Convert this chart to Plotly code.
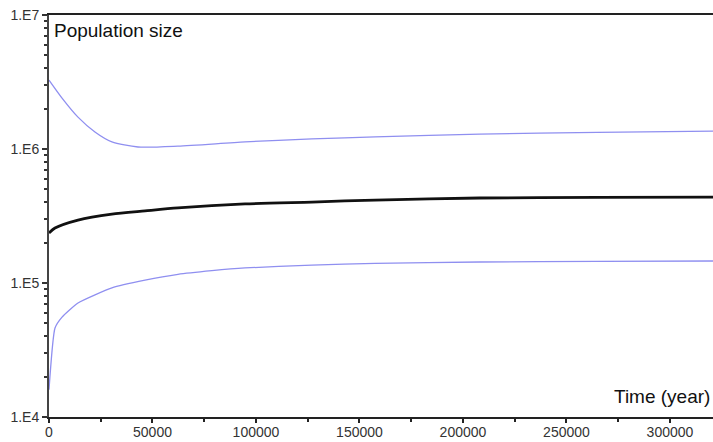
import plotly.graph_objects as go

# Time (years) and population size
upper_x = [0, 6300, 14000, 22200, 30400, 43000, 62300, 94700, 127000, 157500, 208000, 265000, 320800]
upper_y = [3.27e6, 2.40e6, 1.73e6, 1.34e6, 1.13e6, 1.035e6, 1.05e6, 1.13e6, 1.19e6, 1.23e6, 1.29e6, 1.33e6, 1.36e6]

mid_x = [0, 2900, 14000, 30400, 46400, 62300, 94700, 127000, 157500, 208000, 265000, 320800]
mid_y = [2.36e5, 2.57e5, 2.95e5, 3.27e5, 3.45e5, 3.63e5, 3.89e5, 4.02e5, 4.16e5, 4.31e5, 4.35e5, 4.38e5]

lower_x = [0, 2900, 6300, 14000, 30400, 46400, 62300, 78700, 94700, 127000, 157500, 208000, 265000, 320800]
lower_y = [1.6e4, 4.62e4, 5.57e4, 7.1e4, 9.2e4, 1.05e5, 1.16e5, 1.235e5, 1.295e5, 1.36e5, 1.40e5, 1.435e5, 1.45e5, 1.46e5]

y_tickvals = [1e4, 1e5, 1e6, 1e7]
y_ticktext = ["1.E4", "1.E5", "1.E6", "1.E7"]
x_tickvals = [0, 50000, 100000, 150000, 200000, 250000, 300000]

blue = "#8f8ff0"

fig = go.Figure()
fig.add_trace(go.Scatter(x=upper_x, y=upper_y, mode="lines",
                         line=dict(color=blue, width=1.3, shape="spline", smoothing=0.7)))
fig.add_trace(go.Scatter(x=mid_x, y=mid_y, mode="lines",
                         line=dict(color="#111111", width=2.8, shape="spline", smoothing=0.7)))
fig.add_trace(go.Scatter(x=lower_x, y=lower_y, mode="lines",
                         line=dict(color=blue, width=1.3, shape="spline", smoothing=0.5)))

minor_y = [m * 10 ** e for e in (4, 5, 6) for m in range(2, 10)]

fig.update_layout(
    width=713, height=442,
    margin=dict(l=49, r=0, t=15, b=25),
    paper_bgcolor="white", plot_bgcolor="white",
    showlegend=False,
    font=dict(family="Liberation Sans, Arial, sans-serif", color="#333333"),
    xaxis=dict(
        range=[0, 320800], tickvals=x_tickvals, ticktext=[str(v) for v in x_tickvals],
        automargin=False,
        showgrid=False, zeroline=False, showline=True, linecolor="#222222", linewidth=2,
        mirror=True, ticks="outside", ticklen=4, tickwidth=1.5, tickcolor="#222222",
        tickfont=dict(size=14, color="#333333"), ticklabelstandoff=-3,
        minor=dict(tickvals=[25000, 75000, 125000, 175000, 225000, 275000], ticks="outside",
                   ticklen=3, tickwidth=1.5, tickcolor="#222222"),
    ),
    yaxis=dict(
        type="log", range=[4, 7], tickvals=y_tickvals, ticktext=y_ticktext,
        automargin=False,
        showgrid=False, zeroline=False, showline=True, linecolor="#444444", linewidth=2,
        ticks="outside", ticklen=5, tickwidth=1.5, tickcolor="#333333",
        tickfont=dict(size=14, color="#333333"),
        minor=dict(tickvals=minor_y, ticks="outside", ticklen=3, tickwidth=1.5, tickcolor="#333333"),
    ),
    annotations=[
        dict(text="Population size", xref="paper", yref="paper", x=0.004, y=0.962,
             xanchor="left", yanchor="middle", showarrow=False,
             font=dict(size=19, color="#111111")),
        dict(text="Time (year)", xref="paper", yref="paper", x=(612 - 49) / 664, y=0.052,
             xanchor="left", yanchor="middle", showarrow=False,
             font=dict(size=19, color="#111111")),
    ],
)

fig.write_html("out.html", config={"displayModeBar": False},
               post_script="document.body.style.margin='0';document.body.style.overflow='hidden';")
